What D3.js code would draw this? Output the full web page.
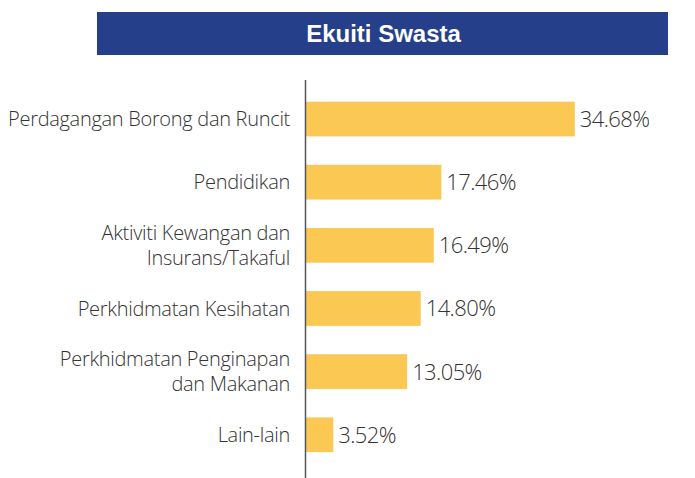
<!DOCTYPE html>
<html>
<head>
<meta charset="utf-8">
<script src="https://cdn.jsdelivr.net/npm/d3@7"></script>
<style>
  body { margin: 0; background: #fff; }
  text { font-family: "Open Sans", "Noto Sans", sans-serif; }
</style>
</head>
<body>
<script>
// chart data
const title = "Ekuiti Swasta";
const categories = [
  ["Perdagangan Borong dan Runcit"],
  ["Pendidikan"],
  ["Aktiviti Kewangan dan", "Insurans/Takaful"],
  ["Perkhidmatan Kesihatan"],
  ["Perkhidmatan Penginapan", "dan Makanan"],
  ["Lain-lain"]
];
const values = [34.68, 17.46, 16.49, 14.80, 13.05, 3.52];

const width = 695, height = 478;
const axisX = 306;

const svg = d3.select("body").append("svg")
  .attr("width", width)
  .attr("height", height);

// title banner
svg.append("rect")
  .attr("x", 97).attr("y", 12)
  .attr("width", 571).attr("height", 43)
  .attr("fill", "#253f8b");
svg.append("text")
  .attr("x", 97 + 571 / 2 + 1).attr("y", 42)
  .attr("text-anchor", "middle")
  .style("font-family", "'Liberation Sans', Arial, sans-serif")
  .style("font-weight", "bold")
  .style("font-size", "24px")
  .attr("fill", "#fff")
  .text(title);

const y = d3.scaleBand()
  .domain(d3.range(categories.length))
  .range([84, 84 + 64.3 * categories.length])
  .paddingInner(0.45)
  .paddingOuter(0.28);

const x = d3.scaleLinear().domain([0, 40]).range([axisX, axisX + 310]);

// bars
svg.selectAll(".bar")
  .data(values)
  .enter()
  .append("rect")
  .attr("class", "bar")
  .attr("x", x(0))
  .attr("y", (d, i) => y(i))
  .attr("width", d => x(d) - x(0))
  .attr("height", y.bandwidth())
  .attr("fill", "#fac853");

// value labels
svg.selectAll(".val")
  .data(values)
  .enter()
  .append("text")
  .attr("class", "val")
  .attr("x", d => x(d) + 5)
  .attr("y", (d, i) => y(i) + y.bandwidth() / 2)
  .attr("dy", "0.36em")
  .style("font-size", "22px")
  .style("font-weight", 300)
  .style("letter-spacing", "-0.6px")
  .attr("fill", "#333")
  .text(d => d.toFixed(2) + "%");

// category labels
const cat = svg.selectAll(".cat")
  .data(categories)
  .enter()
  .append("text")
  .attr("class", "cat")
  .attr("text-anchor", "end")
  .style("font-size", "20px")
  .style("font-weight", 300)
  .style("letter-spacing", "-0.3px")
  .attr("fill", "#333")
  .attr("transform", (d, i) => `translate(290, ${y(i) + y.bandwidth() / 2})`);

cat.selectAll("tspan")
  .data(d => d)
  .enter()
  .append("tspan")
  .attr("x", 0)
  .attr("y", (t, j, nodes) => (j - (nodes.length - 1) / 2) * 25)
  .attr("dy", "0.36em")
  .text(t => t);

// vertical axis line
svg.append("line")
  .attr("x1", axisX - 0.5).attr("x2", axisX - 0.5)
  .attr("y1", 80).attr("y2", height)
  .attr("stroke", "#555")
  .attr("stroke-width", 1.5);
</script>
</body>
</html>
